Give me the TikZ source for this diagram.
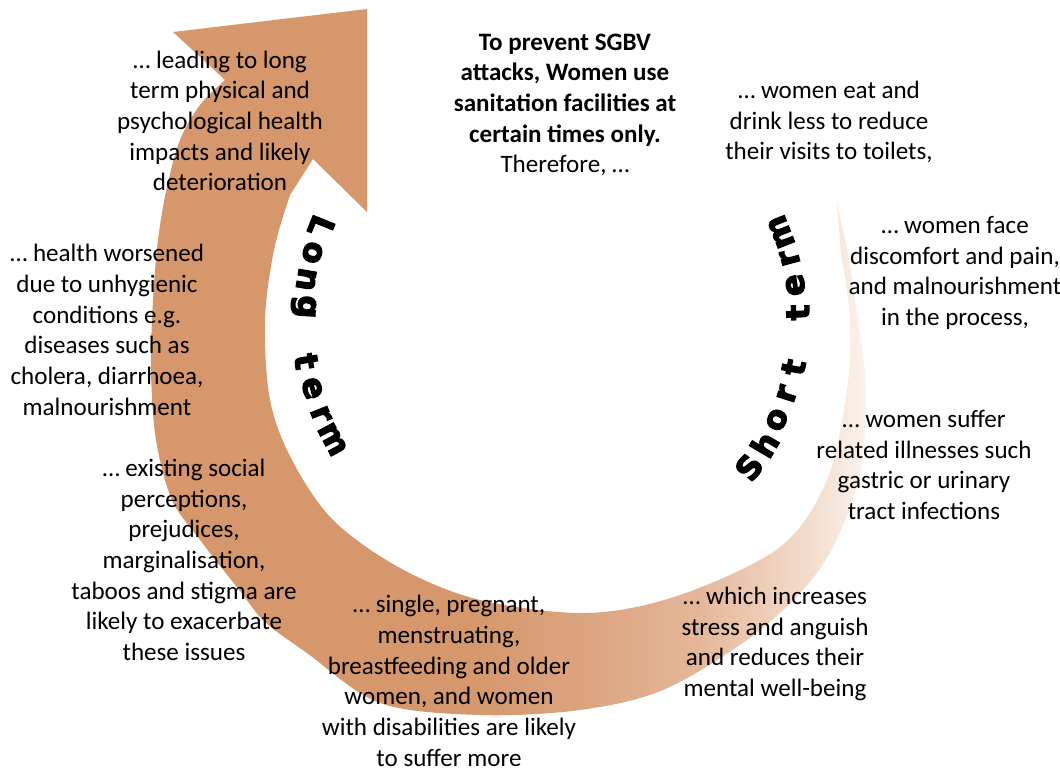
\documentclass[tikz,border=0pt]{standalone}
\usepackage{fontspec}
\setmainfont{Carlito}
\newfontfamily\arcfont[FakeBold=4]{DejaVu Sans Bold}
\usepackage{tikz}
\definecolor{ringdark}{RGB}{213,151,107}
\definecolor{ringwarm}{RGB}{219,163,126}
\definecolor{ringmid}{RGB}{228,182,152}
\definecolor{ringpale}{RGB}{243,220,204}
\definecolor{ringwhite}{RGB}{251,243,237}
\pgfdeclarehorizontalshading{ringfade}{100bp}{color(0bp)=(ringdark); color(47bp)=(ringdark); color(55bp)=(ringwarm); color(63bp)=(ringmid); color(71bp)=(ringpale); color(75bp)=(ringwhite); color(100bp)=(ringwhite)}
\tikzset{
  note/.style={align=center, inner sep=0pt, font=\fontsize{18.8}{23}\selectfont},
  arcchar/.style={inner sep=0pt, font=\arcfont\fontsize{24}{24}\selectfont}
}

\begin{document}
\begin{tikzpicture}[x=0.75pt, y=-0.75pt]
\useasboundingbox (0,0) rectangle (1060,771);
\fill[white] (0,0) rectangle (1060,771);

% ring, fading out on the right, head at top left
\shade[shading=ringfade] (837,203) -- plot[smooth, tension=0.55] coordinates {(848,253) (858,320) (866,390) (860,475) (833,547) (800,593) (747,640) (663,690) (580,710) (480,715) (380,703) (307,653) (265,622) (240,591) (200,540) (172,500) (156,440) (151,370) (153,300) (158,240) (167,187) (180,140) (200,105) (225,80)}
  -- (173,32) -- (367,9) -- (367,212) -- (313,159)
  -- plot[smooth, tension=0.55] coordinates {(290,195) (274,250) (265,320) (270,400) (292,460) (333,520) (400,568) (480,600) (587,613) (680,595) (780,547) (827,480) (847,390) (850,320) (841,253)} -- cycle;

\node[note, font=\fontsize{18.8}{23}\selectfont\bfseries] (start) at (565,105) {To prevent SGBV\\attacks, Women use\\sanitation facilities at\\certain times only.\\\mdseries Therefore, …};
\node[note] (eat) at (829,122) {… women eat and\\drink less to reduce\\their visits to toilets,};
\node[note] (pain) at (955,273) {… women face\\discomfort and pain,\\and malnourishment\\in the process,};
\node[note] (ill) at (924,465) {… women suffer\\related illnesses such\\gastric or urinary\\tract infections};
\node[note] (stress) at (775,644) {… which increases\\stress and anguish\\and reduces their\\mental well-being};
\node[note] (groups) at (449,681) {… single, pregnant,\\menstruating,\\breastfeeding and older\\women, and women\\with disabilities are likely\\to suffer more};
\node[note] (social) at (184,560) {… existing social\\perceptions,\\prejudices,\\marginalisation,\\taboos and stigma are\\likely to exacerbate\\these issues};
\node[note] (hygiene) at (107,330) {… health worsened\\due to unhygienic\\conditions e.g.\\diseases such as\\cholera, diarrhoea,\\malnourishment};
\node[note] (lasting) at (220,121) {… leading to long\\term physical and\\psychological health\\impacts and likely\\deterioration};

% letters set along the inner edge
\foreach \ch/\k in {L/0,o/1,n/2,g/3,t/5,e/6,r/7,m/8}{
  \pgfmathsetmacro\ang{158+\k*6.25}
  \node[arcchar, rotate=\ang+90] (lt\k) at ({555+252*cos(\ang)},{321-252*sin(\ang)}) {\ch};
}
\foreach \ch/\k in {S/0,h/1,o/2,r/3,t/4,t/6,e/7,r/8,m/9}{
  \pgfmathsetmacro\ang{-37+\k*6.5}
  \node[arcchar, rotate=\ang+90] (st\k) at ({555+243*cos(\ang)},{321-243*sin(\ang)}) {\ch};
}
\end{tikzpicture}
\end{document}
